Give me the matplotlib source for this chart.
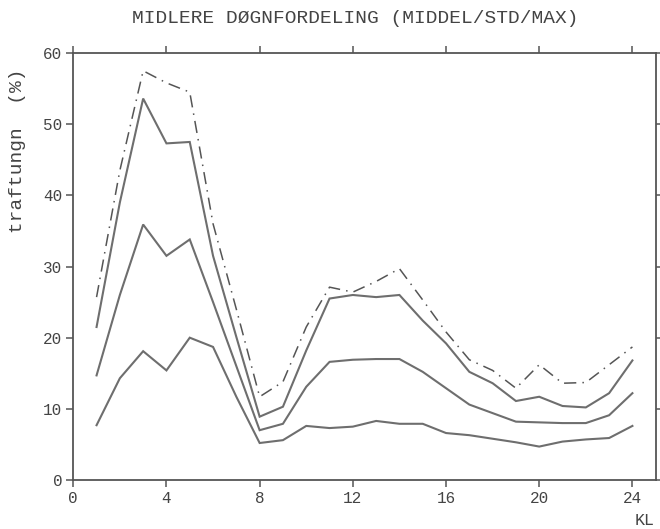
import numpy as np
import matplotlib
matplotlib.use("Agg")
import matplotlib.pyplot as plt

# hourly distribution, hours 1..24
timer = np.arange(1, 25)
middel = [7.7, 14.3, 18.1, 15.4, 20.0, 18.7, 11.7, 5.2, 5.6, 7.6, 7.3, 7.5,
          8.3, 7.9, 7.9, 6.6, 6.3, 5.8, 5.3, 4.7, 5.4, 5.7, 5.9, 7.6]
std1 = [14.7, 26.0, 35.9, 31.5, 33.8, 25.0, 16.0, 7.0, 7.9, 13.1, 16.6, 16.9,
        17.0, 17.0, 15.2, 12.9, 10.6, 9.4, 8.2, 8.1, 8.0, 8.0, 9.1, 12.2]
std2 = [21.5, 39.0, 53.6, 47.3, 47.5, 31.5, 20.1, 8.9, 10.3, 18.2, 25.5, 26.0,
        25.7, 26.0, 22.4, 19.2, 15.2, 13.6, 11.1, 11.7, 10.4, 10.2, 12.2, 16.8]
maks = [25.7, 43.5, 57.5, 55.8, 54.5, 36.0, 24.0, 11.7, 13.8, 21.5, 27.1, 26.4,
        27.9, 29.7, 25.3, 20.8, 16.9, 15.4, 12.9, 16.2, 13.6, 13.7, 16.2, 18.7]

xticks = [0, 4, 8, 12, 16, 20, 24]
yticks = [0, 10, 20, 30, 40, 50, 60]

plt.rcParams['font.family'] = ['Liberation Mono', 'DejaVu Sans Mono']
txt = '#444444'
line_c = '#6e6e6e'

fig = plt.figure(figsize=(6.6, 5.29), dpi=100)
ax = fig.add_axes([0.111, 0.0926, 0.8825, 0.8072])

for serie in [middel, std1, std2]:
    ax.plot(timer, serie, color=line_c, lw=1.5, solid_joinstyle='miter')
ax.plot(timer, maks, color='#555555', lw=1.1, linestyle=(0, (8, 4, 1, 4)))

ax.set_xlim(0, 25)
ax.set_ylim(0, 60)
ax.set_xticks(xticks)
ax.set_yticks(yticks)
ax.tick_params(direction='out', length=5, width=1.1, color='#555555',
               labelsize=11.5, labelcolor=txt, top=True, right=True, pad=3)
for s in ax.spines.values():
    s.set_color('#555555')
    s.set_linewidth(1.3)

fig.text(0.538, 0.965, 'MIDLERE DØGNFORDELING (MIDDEL/STD/MAX)',
         ha='center', va='center', fontsize=14, color=txt)
fig.text(0.027, 0.715, 'traftungn  (%)', rotation=90, ha='center', va='center',
         fontsize=14, color=txt)
fig.text(0.977, 0.017, 'KL', ha='center', va='center', fontsize=12, color=txt)

fig.savefig('out.png', dpi=100)
